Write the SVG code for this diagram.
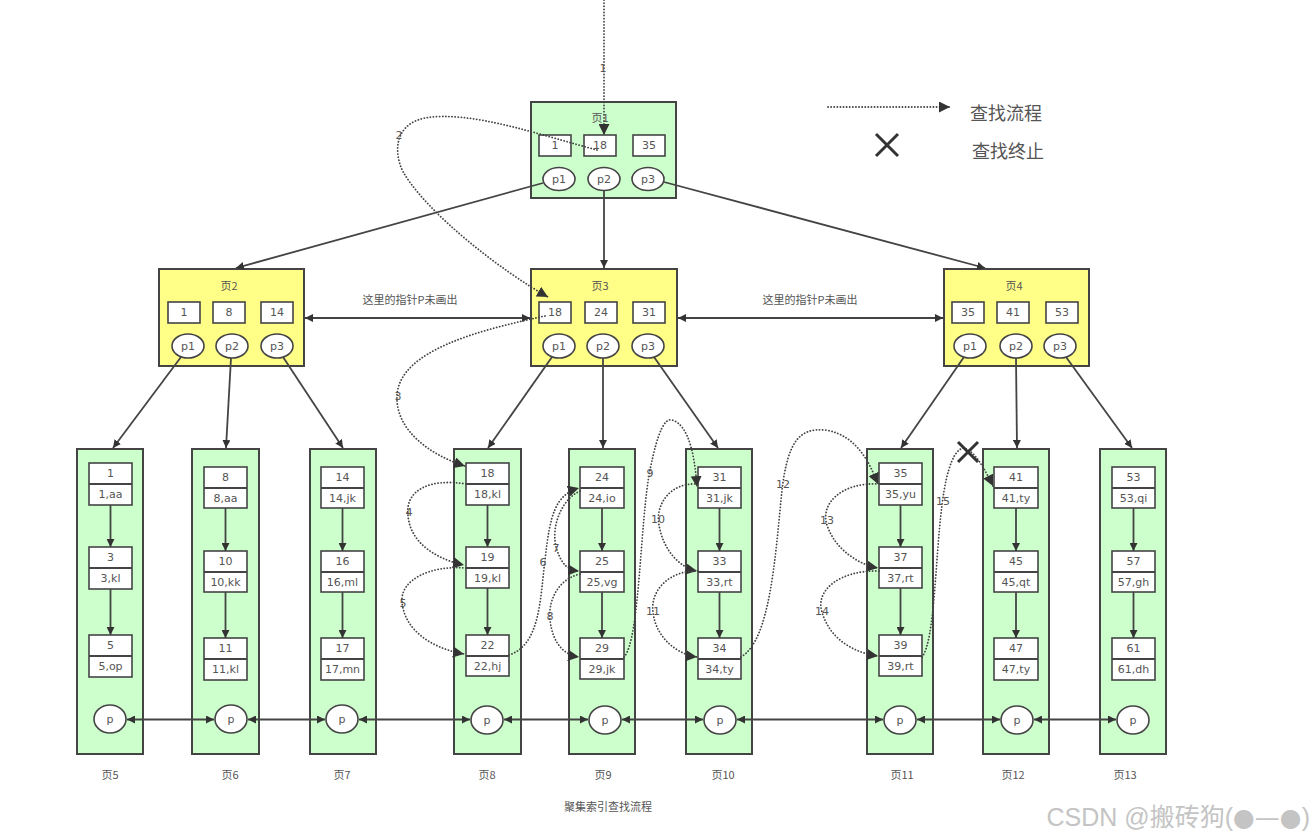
<svg xmlns="http://www.w3.org/2000/svg" width="1316" height="838" viewBox="0 0 1316 838">
<defs>
<style>
.pg{fill:#ccffcc;stroke:#444;stroke-width:2}
.yl{fill:#ffff88;stroke:#444;stroke-width:2}
.bx{fill:#fff;stroke:#444;stroke-width:1.6}
.el{fill:#fff;stroke:#444;stroke-width:1.6}
.t{font-family:"DejaVu Sans","Noto Sans CJK SC",sans-serif;font-size:11px;fill:#555;text-anchor:middle;dominant-baseline:central}
.tc{font-family:"Noto Sans CJK SC","DejaVu Sans",sans-serif;font-size:11px;fill:#555;text-anchor:middle;dominant-baseline:central}
.ln{stroke:#444;stroke-width:1.8;fill:none}
.ar{stroke:#444;stroke-width:1.8;fill:none;marker-end:url(#ah)}
.da{stroke:#444;stroke-width:1.8;fill:none;marker-start:url(#ah);marker-end:url(#ah)}
.dt{stroke:#444;stroke-width:1.8;fill:none;stroke-dasharray:0.1 3;stroke-linecap:round;marker-end:url(#ah2)}
.x{stroke:#333;stroke-width:3;fill:none}
</style>
<marker id="ah" viewBox="0 0 10 10" refX="10" refY="5" markerWidth="8" markerHeight="8" markerUnits="userSpaceOnUse" orient="auto-start-reverse"><path d="M0,0 L10,5 L0,10 z" fill="#333"/></marker>
<marker id="ah2" viewBox="0 0 10 10" refX="10" refY="5" markerWidth="11" markerHeight="11" markerUnits="userSpaceOnUse" orient="auto"><path d="M0,0 L10,5 L0,10 z" fill="#333"/></marker>
</defs>
<rect width="1316" height="838" fill="#fff"/>

<!-- Page 1 -->
<g id="page1">
<rect class="pg" x="531" y="102" width="145" height="96"/>
<text class="tc" x="600" y="117">页1</text>
<rect class="bx" x="539" y="135" width="32" height="21"/><text class="t" x="555" y="145.5">1</text>
<rect class="bx" x="584" y="135" width="32" height="21"/><text class="t" x="600" y="145.5">18</text>
<rect class="bx" x="633" y="135" width="32" height="21"/><text class="t" x="649" y="145.5">35</text>
<ellipse class="el" cx="559" cy="179" rx="16" ry="11.5"/><text class="t" x="559" y="179">p1</text>
<ellipse class="el" cx="604" cy="179" rx="16" ry="11.5"/><text class="t" x="604" y="179">p2</text>
<ellipse class="el" cx="648" cy="179" rx="16" ry="11.5"/><text class="t" x="648" y="179">p3</text>
</g>

<!-- Page 2 -->
<g id="page2">
<rect class="yl" x="159" y="269" width="145" height="97"/>
<text class="tc" x="229" y="285">页2</text>
<rect class="bx" x="168" y="302" width="32" height="21"/><text class="t" x="184" y="312.5">1</text>
<rect class="bx" x="213" y="302" width="32" height="21"/><text class="t" x="229" y="312.5">8</text>
<rect class="bx" x="261" y="302" width="32" height="21"/><text class="t" x="277" y="312.5">14</text>
<ellipse class="el" cx="188" cy="346" rx="16" ry="12"/><text class="t" x="188" y="346">p1</text>
<ellipse class="el" cx="232" cy="346" rx="16" ry="12"/><text class="t" x="232" y="346">p2</text>
<ellipse class="el" cx="277" cy="346" rx="16" ry="12"/><text class="t" x="277" y="346">p3</text>
</g>

<!-- Page 3 -->
<g id="page3">
<rect class="yl" x="531" y="269" width="146" height="97"/>
<text class="tc" x="600" y="285">页3</text>
<rect class="bx" x="539" y="302" width="32" height="21"/><text class="t" x="555" y="312.5">18</text>
<rect class="bx" x="585" y="302" width="32" height="21"/><text class="t" x="601" y="312.5">24</text>
<rect class="bx" x="633" y="302" width="32" height="21"/><text class="t" x="649" y="312.5">31</text>
<ellipse class="el" cx="559" cy="346" rx="16" ry="12"/><text class="t" x="559" y="346">p1</text>
<ellipse class="el" cx="603" cy="346" rx="16" ry="12"/><text class="t" x="603" y="346">p2</text>
<ellipse class="el" cx="648" cy="346" rx="16" ry="12"/><text class="t" x="648" y="346">p3</text>
</g>

<!-- Page 4 -->
<g id="page4">
<rect class="yl" x="944" y="269" width="145" height="97"/>
<text class="tc" x="1014" y="285">页4</text>
<rect class="bx" x="952" y="302" width="32" height="21"/><text class="t" x="968" y="312.5">35</text>
<rect class="bx" x="997" y="302" width="32" height="21"/><text class="t" x="1013" y="312.5">41</text>
<rect class="bx" x="1046" y="302" width="32" height="21"/><text class="t" x="1062" y="312.5">53</text>
<ellipse class="el" cx="970" cy="346" rx="16" ry="12"/><text class="t" x="970" y="346">p1</text>
<ellipse class="el" cx="1016" cy="346" rx="16" ry="12"/><text class="t" x="1016" y="346">p2</text>
<ellipse class="el" cx="1060" cy="346" rx="16" ry="12"/><text class="t" x="1060" y="346">p3</text>
</g>

<!-- Leaf pages -->
<g id="page5">
<rect class="pg" x="77" y="449" width="66" height="305"/>
<rect class="bx" x="89" y="463" width="43" height="42"/><line class="ln" x1="89" y1="484" x2="132" y2="484"/><text class="t" x="110.5" y="473.5">1</text><text class="t" x="110.5" y="494.5">1,aa</text>
<rect class="bx" x="89" y="547" width="43" height="42"/><line class="ln" x1="89" y1="568" x2="132" y2="568"/><text class="t" x="110.5" y="557.5">3</text><text class="t" x="110.5" y="578.5">3,kl</text>
<rect class="bx" x="89" y="635" width="43" height="42"/><line class="ln" x1="89" y1="656" x2="132" y2="656"/><text class="t" x="110.5" y="645.5">5</text><text class="t" x="110.5" y="666.5">5,op</text>
<line class="ar" x1="110.5" y1="505" x2="110.5" y2="547"/>
<line class="ar" x1="110.5" y1="589" x2="110.5" y2="635"/>
<ellipse class="el" cx="110" cy="719" rx="16" ry="14"/><text class="t" x="110" y="719">p</text>
</g>
<g id="page6">
<rect class="pg" x="192" y="449" width="67" height="305"/>
<rect class="bx" x="204" y="467" width="43" height="41"/><line class="ln" x1="204" y1="488" x2="247" y2="488"/><text class="t" x="225.5" y="477.5">8</text><text class="t" x="225.5" y="498">8,aa</text>
<rect class="bx" x="204" y="551" width="43" height="41"/><line class="ln" x1="204" y1="572" x2="247" y2="572"/><text class="t" x="225.5" y="561.5">10</text><text class="t" x="225.5" y="582">10,kk</text>
<rect class="bx" x="204" y="638" width="43" height="42"/><line class="ln" x1="204" y1="659" x2="247" y2="659"/><text class="t" x="225.5" y="648.5">11</text><text class="t" x="225.5" y="669.5">11,kl</text>
<line class="ar" x1="225.5" y1="508" x2="225.5" y2="551"/>
<line class="ar" x1="225.5" y1="592" x2="225.5" y2="638"/>
<ellipse class="el" cx="231" cy="719" rx="16" ry="14"/><text class="t" x="231" y="719">p</text>
</g>
<g id="page7">
<rect class="pg" x="310" y="449" width="66" height="305"/>
<rect class="bx" x="321" y="467" width="43" height="41"/><line class="ln" x1="321" y1="488" x2="364" y2="488"/><text class="t" x="342.5" y="477.5">14</text><text class="t" x="342.5" y="498">14,jk</text>
<rect class="bx" x="321" y="551" width="43" height="41"/><line class="ln" x1="321" y1="572" x2="364" y2="572"/><text class="t" x="342.5" y="561.5">16</text><text class="t" x="342.5" y="582">16,ml</text>
<rect class="bx" x="321" y="638" width="43" height="42"/><line class="ln" x1="321" y1="659" x2="364" y2="659"/><text class="t" x="342.5" y="648.5">17</text><text class="t" x="342.5" y="669.5">17,mn</text>
<line class="ar" x1="342.5" y1="508" x2="342.5" y2="551"/>
<line class="ar" x1="342.5" y1="592" x2="342.5" y2="638"/>
<ellipse class="el" cx="342" cy="719" rx="16" ry="14"/><text class="t" x="342" y="719">p</text>
</g>
<g id="page8">
<rect class="pg" x="454" y="449" width="67" height="305"/>
<rect class="bx" x="466" y="463" width="43" height="42"/><line class="ln" x1="466" y1="484" x2="509" y2="484"/><text class="t" x="487.5" y="473.5">18</text><text class="t" x="487.5" y="494.5">18,kl</text>
<rect class="bx" x="466" y="547" width="43" height="41"/><line class="ln" x1="466" y1="568" x2="509" y2="568"/><text class="t" x="487.5" y="557.5">19</text><text class="t" x="487.5" y="578">19,kl</text>
<rect class="bx" x="466" y="635" width="43" height="41"/><line class="ln" x1="466" y1="656" x2="509" y2="656"/><text class="t" x="487.5" y="645.5">22</text><text class="t" x="487.5" y="666">22,hj</text>
<line class="ar" x1="487.5" y1="505" x2="487.5" y2="547"/>
<line class="ar" x1="487.5" y1="588" x2="487.5" y2="635"/>
<ellipse class="el" cx="487" cy="720" rx="16" ry="14"/><text class="t" x="487" y="720">p</text>
</g>
<g id="page9">
<rect class="pg" x="569" y="449" width="66" height="305"/>
<rect class="bx" x="580" y="467" width="44" height="41"/><line class="ln" x1="580" y1="488" x2="624" y2="488"/><text class="t" x="602" y="477.5">24</text><text class="t" x="602" y="498">24,io</text>
<rect class="bx" x="580" y="551" width="44" height="41"/><line class="ln" x1="580" y1="572" x2="624" y2="572"/><text class="t" x="602" y="561.5">25</text><text class="t" x="602" y="582">25,vg</text>
<rect class="bx" x="580" y="638" width="44" height="41"/><line class="ln" x1="580" y1="659" x2="624" y2="659"/><text class="t" x="602" y="648.5">29</text><text class="t" x="602" y="669">29,jk</text>
<line class="ar" x1="602" y1="508" x2="602" y2="551"/>
<line class="ar" x1="602" y1="592" x2="602" y2="638"/>
<ellipse class="el" cx="605" cy="720" rx="16" ry="14"/><text class="t" x="605" y="720">p</text>
</g>
<g id="page10">
<rect class="pg" x="686" y="449" width="66" height="305"/>
<rect class="bx" x="698" y="467" width="43" height="41"/><line class="ln" x1="698" y1="488" x2="741" y2="488"/><text class="t" x="719.5" y="477.5">31</text><text class="t" x="719.5" y="498">31,jk</text>
<rect class="bx" x="698" y="551" width="43" height="41"/><line class="ln" x1="698" y1="572" x2="741" y2="572"/><text class="t" x="719.5" y="561.5">33</text><text class="t" x="719.5" y="582">33,rt</text>
<rect class="bx" x="698" y="638" width="43" height="41"/><line class="ln" x1="698" y1="659" x2="741" y2="659"/><text class="t" x="719.5" y="648.5">34</text><text class="t" x="719.5" y="669">34,ty</text>
<line class="ar" x1="719.5" y1="508" x2="719.5" y2="551"/>
<line class="ar" x1="719.5" y1="592" x2="719.5" y2="638"/>
<ellipse class="el" cx="720" cy="720" rx="16" ry="14"/><text class="t" x="720" y="720">p</text>
</g>
<g id="page11">
<rect class="pg" x="867" y="449" width="66" height="305"/>
<rect class="bx" x="879" y="463" width="43" height="42"/><line class="ln" x1="879" y1="484" x2="922" y2="484"/><text class="t" x="900.5" y="473.5">35</text><text class="t" x="900.5" y="494.5">35,yu</text>
<rect class="bx" x="879" y="547" width="43" height="41"/><line class="ln" x1="879" y1="568" x2="922" y2="568"/><text class="t" x="900.5" y="557.5">37</text><text class="t" x="900.5" y="578">37,rt</text>
<rect class="bx" x="879" y="635" width="43" height="41"/><line class="ln" x1="879" y1="656" x2="922" y2="656"/><text class="t" x="900.5" y="645.5">39</text><text class="t" x="900.5" y="666">39,rt</text>
<line class="ar" x1="900.5" y1="505" x2="900.5" y2="547"/>
<line class="ar" x1="900.5" y1="588" x2="900.5" y2="635"/>
<ellipse class="el" cx="900" cy="720" rx="16" ry="14"/><text class="t" x="900" y="720">p</text>
</g>
<g id="page12">
<rect class="pg" x="983" y="449" width="66" height="305"/>
<rect class="bx" x="994" y="467" width="44" height="41"/><line class="ln" x1="994" y1="488" x2="1038" y2="488"/><text class="t" x="1016" y="477.5">41</text><text class="t" x="1016" y="498">41,ty</text>
<rect class="bx" x="994" y="551" width="44" height="41"/><line class="ln" x1="994" y1="572" x2="1038" y2="572"/><text class="t" x="1016" y="561.5">45</text><text class="t" x="1016" y="582">45,qt</text>
<rect class="bx" x="994" y="638" width="44" height="42"/><line class="ln" x1="994" y1="659" x2="1038" y2="659"/><text class="t" x="1016" y="648.5">47</text><text class="t" x="1016" y="669.5">47,ty</text>
<line class="ar" x1="1016" y1="508" x2="1016" y2="551"/>
<line class="ar" x1="1016" y1="592" x2="1016" y2="638"/>
<ellipse class="el" cx="1017" cy="720" rx="16" ry="14"/><text class="t" x="1017" y="720">p</text>
</g>
<g id="page13">
<rect class="pg" x="1100" y="449" width="66" height="305"/>
<rect class="bx" x="1112" y="467" width="43" height="41"/><line class="ln" x1="1112" y1="488" x2="1155" y2="488"/><text class="t" x="1133.5" y="477.5">53</text><text class="t" x="1133.5" y="498">53,qi</text>
<rect class="bx" x="1112" y="551" width="43" height="41"/><line class="ln" x1="1112" y1="572" x2="1155" y2="572"/><text class="t" x="1133.5" y="561.5">57</text><text class="t" x="1133.5" y="582">57,gh</text>
<rect class="bx" x="1112" y="638" width="43" height="42"/><line class="ln" x1="1112" y1="659" x2="1155" y2="659"/><text class="t" x="1133.5" y="648.5">61</text><text class="t" x="1133.5" y="669.5">61,dh</text>
<line class="ar" x1="1133.5" y1="508" x2="1133.5" y2="551"/>
<line class="ar" x1="1133.5" y1="592" x2="1133.5" y2="638"/>
<ellipse class="el" cx="1133" cy="720" rx="16" ry="14"/><text class="t" x="1133" y="720">p</text>
</g>

<!-- Connectors -->
<g id="connectors">
<line class="ar" x1="543" y1="183" x2="236" y2="268"/>
<line class="ar" x1="604" y1="190.5" x2="604" y2="268"/>
<line class="ar" x1="664" y1="182" x2="985" y2="268"/>
<line class="da" x1="305" y1="318" x2="530" y2="318"/>
<line class="da" x1="678" y1="318" x2="943" y2="318"/>
<line class="ar" x1="181" y1="357" x2="113" y2="448"/>
<line class="ar" x1="231" y1="358" x2="226" y2="448"/>
<line class="ar" x1="283" y1="357" x2="343" y2="448"/>
<line class="ar" x1="552" y1="357" x2="488" y2="448"/>
<line class="ar" x1="603" y1="358" x2="603" y2="448"/>
<line class="ar" x1="654" y1="357" x2="718" y2="448"/>
<line class="ar" x1="964" y1="357" x2="901" y2="448"/>
<line class="ar" x1="1016" y1="358" x2="1017" y2="448"/>
<line class="ar" x1="1066" y1="357" x2="1132" y2="448"/>
<line class="da" x1="127" y1="719.5" x2="214" y2="719.5"/>
<line class="da" x1="248" y1="719.5" x2="325" y2="719.5"/>
<line class="da" x1="359" y1="719.5" x2="470" y2="719.5"/>
<line class="da" x1="504" y1="719.5" x2="588" y2="719.5"/>
<line class="da" x1="622" y1="719.5" x2="703" y2="719.5"/>
<line class="da" x1="737" y1="719.5" x2="883" y2="719.5"/>
<line class="da" x1="917" y1="719.5" x2="1000" y2="719.5"/>
<line class="da" x1="1034" y1="719.5" x2="1116" y2="719.5"/>
</g>

<!-- Search path (dotted) -->
<g id="search-path">
<path class="dt" d="M604,0 L604,135"/>
<path class="dt" d="M597,150 C540,135 470,110 425,118 C390,125 395,160 405,175 C430,215 500,270 548,297"/>
<path class="dt" d="M545,316 C480,330 400,350 397,395 C395,430 430,455 465,466"/>
<path class="dt" d="M466,484 C430,478 405,490 408,515 C410,545 440,560 464,565"/>
<path class="dt" d="M466,568 C430,565 400,580 402,602 C405,635 440,650 464,654"/>
<path class="dt" d="M509,655 C540,645 540,600 545,560 C550,515 555,495 579,488"/>
<path class="dt" d="M580,491 C560,500 550,530 557,550 C562,565 568,570 579,571"/>
<path class="dt" d="M580,574 C555,580 548,605 550,620 C553,645 565,655 579,657"/>
<path class="dt" d="M624,657 C640,640 640,520 650,470 C658,430 665,418 672,420 C690,425 695,460 697,487"/>
<path class="dt" d="M698,484 C670,482 655,505 659,525 C663,550 680,568 697,571"/>
<path class="dt" d="M698,571 C670,570 650,590 653,612 C656,640 680,655 697,657"/>
<path class="dt" d="M741,657 C770,640 775,560 782,490 C788,440 800,428 825,430 C860,435 872,470 878,484"/>
<path class="dt" d="M879,484 C840,482 820,505 827,525 C835,550 860,565 878,568"/>
<path class="dt" d="M879,571 C840,570 815,590 822,612 C830,640 855,653 878,656"/>
<path class="dt" d="M922,657 C935,640 935,560 942,505 C947,465 955,450 963,448 C975,450 985,470 993,486"/>
<text class="t" x="603" y="68">1</text>
<text class="t" x="399" y="135">2</text>
<text class="t" x="398" y="396">3</text>
<text class="t" x="409" y="512">4</text>
<text class="t" x="403" y="603">5</text>
<text class="t" x="543" y="562">6</text>
<text class="t" x="556" y="548">7</text>
<text class="t" x="550" y="616">8</text>
<text class="t" x="650" y="473">9</text>
<text class="t" x="658" y="519">10</text>
<text class="t" x="653" y="611">11</text>
<text class="t" x="783" y="484">12</text>
<text class="t" x="827" y="520">13</text>
<text class="t" x="822" y="611">14</text>
<text class="t" x="943" y="501">15</text>
</g>

<!-- stop mark -->
<g id="stop-mark"><path class="x" d="M958,442 L978,462 M978,442 L958,462"/></g>

<!-- labels -->
<g id="labels">
<text class="tc" x="410" y="299">这里的指针P未画出</text>
<text class="tc" x="810" y="299">这里的指针P未画出</text>
<text class="tc" x="110" y="774">页5</text>
<text class="tc" x="230" y="774">页6</text>
<text class="tc" x="342" y="774">页7</text>
<text class="tc" x="487" y="774">页8</text>
<text class="tc" x="603" y="774">页9</text>
<text class="tc" x="723" y="774">页10</text>
<text class="tc" x="902" y="774">页11</text>
<text class="tc" x="1013" y="774">页12</text>
<text class="tc" x="1125" y="774">页13</text>
<text class="tc" x="608" y="806">聚集索引查找流程</text>
</g>

<!-- legend -->
<g id="legend">
<path class="dt" d="M828,107 L950,107"/>
<text class="tc" x="1006" y="112" style="font-size:18px">查找流程</text>
<path class="x" d="M876,134 L898,156 M898,134 L876,156"/>
<text class="tc" x="1008" y="150" style="font-size:18px">查找终止</text>
</g>

<text x="1310" y="826" style="font-family:'Liberation Sans','Noto Sans CJK SC',sans-serif;font-size:25px;fill:#c4c4c4;text-anchor:end">CSDN @搬砖狗(<tspan style="font-family:'DejaVu Sans',sans-serif">●—●</tspan>)</text>
</svg>
